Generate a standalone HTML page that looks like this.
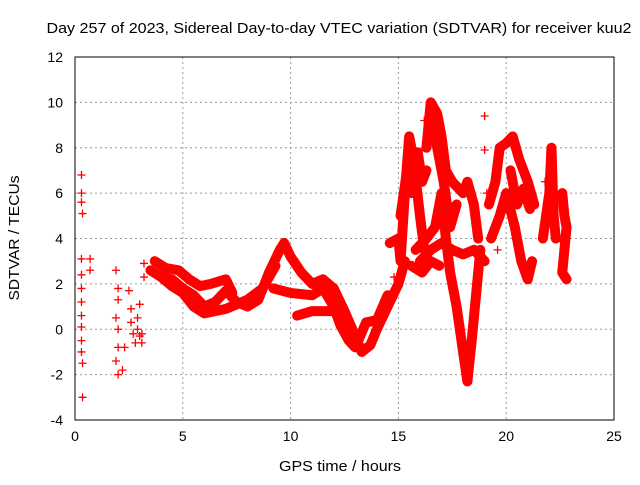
<!DOCTYPE html>
<html><head><meta charset="utf-8"><style>
body{margin:0;background:#fff}
svg text{font-family:"Liberation Sans",sans-serif;fill:#000}
</style></head><body>
<svg id="chart" width="640" height="480" xmlns="http://www.w3.org/2000/svg">
<text x="339" y="33" font-size="15" text-anchor="middle" textLength="585" lengthAdjust="spacingAndGlyphs">Day 257 of 2023, Sidereal Day-to-day VTEC variation (SDTVAR) for receiver kuu2</text>
<text x="340" y="471" font-size="15" text-anchor="middle" textLength="122" lengthAdjust="spacingAndGlyphs">GPS time / hours</text>
<text transform="translate(19,238) rotate(-90)" font-size="15" text-anchor="middle" textLength="125" lengthAdjust="spacingAndGlyphs">SDTVAR / TECUs</text>
<g id="grid"></g><g id="ticks"></g><g id="bands"></g><g id="marks"></g>
<rect x="75" y="57" width="539" height="363" fill="none" stroke="#000"/>
</svg>
<script>
const xTicks=[0,5,10,15,20,25];
const yTicks=[-4,-2,0,2,4,6,8,10,12];
const track1=[[3.5,2.6],[4,2.3],[4.5,2.2],[5,1.8],[5.5,1.5],[6,1.0],[6.5,1.2],[7,1.7],[7.5,1.2],[8,1.0],[8.5,1.3],[9,2.5],[9.5,3.5],[9.7,3.8]];
const track1b=[[3.7,3.0],[4.2,2.7],[4.8,2.6],[5.3,2.2],[5.8,1.9],[6.3,2.0],[7,2.2],[7.3,1.6]];
const track2=[[9.7,3.8],[10,3.2],[10.5,2.5],[11,2.0],[11.5,2.2],[12,1.8],[12.5,0.8],[13,-0.3],[13.3,-1.0],[13.7,-0.7],[14,0],[14.5,1],[15,2],[15.3,3]];
const track3=[[9.2,1.8],[10,1.6],[11,1.5],[11.5,1.8],[12,1.0],[12.3,0.2],[12.7,-0.5],[13,-0.8],[13.5,0.3],[14,0.4],[14.5,1.5]];
const track4=[[10.3,0.6],[11,0.8],[12,0.8],[12.5,0.5]];
const track5=[[4,2.3],[4.5,1.9],[5,1.6],[5.5,1.0],[6,0.7],[7,0.9],[8,1.3],[8.7,1.8],[9.3,2.8]];
const track6=[[14.6,3.8],[15,4.0],[15.1,3],[15.3,6],[15.5,8.5],[15.7,7.5],[16,5],[16.2,3.5]];
const track6b=[[15.1,5],[15.4,7],[15.6,6],[15.9,7.8],[16.1,6.5],[16.3,7]];
const track7=[[16.3,8],[16.5,10],[16.8,9.5],[17,8.5],[17.2,7],[17.5,6.5],[18,6],[18.2,6.5],[18.5,5.5],[18.7,4]];
const track7b=[[16.6,9],[16.9,7.5],[17.1,6.5],[17.4,4.5],[17.7,5.5]];
const track8=[[15.8,3.5],[16.3,4],[16.7,4.5],[17,6],[17.2,4],[17.4,2.5],[17.7,1],[18,-1],[18.2,-2.3],[18.4,-0.5],[18.6,1.5],[18.8,3.5]];
const track9=[[16,3],[16.5,3.5],[17,3.8],[17.5,3.5],[18,3.3],[18.5,3.5],[19,3]];
const track9b=[[15.6,2.8],[16.1,2.5],[16.5,3.0],[16.9,2.8]];
const track10=[[19.2,5.5],[19.5,6.5],[19.7,8],[20,8.2],[20.3,8.5],[20.6,7.5],[21,6.5],[21.3,5.5]];
const track11=[[19.3,4],[19.7,5],[20,6],[20.4,4.5],[20.7,3],[21,2.2],[21.2,3]];
const track11b=[[20.2,7],[20.5,5.5],[20.8,6.2],[21.1,5.3]];
const track12=[[21.7,4],[22,6],[22.1,8],[22.2,5],[22.3,4]];
const track13=[[22.6,6],[22.7,5],[22.8,4.5],[22.6,2.5],[22.8,2.2]];
const scatter=[[0.3,6.8],[0.3,6.0],[0.3,5.6],[0.35,5.1],[0.3,3.1],[0.3,2.4],[0.3,1.8],[0.3,1.2],[0.3,0.6],[0.3,0.1],[0.3,-0.5],[0.3,-1.0],[0.35,-1.5],[0.35,-3.0],[0.7,3.1],[0.7,2.6],[1.9,2.6],[2.0,1.8],[2.0,1.3],[1.9,0.5],[2.0,0],[2.0,-0.8],[1.9,-1.4],[2.0,-2.0],[2.2,-1.8],[2.3,-0.8],[2.5,1.7],[2.6,0.9],[2.6,0.3],[2.7,-0.2],[2.8,-0.6],[2.9,0.5],[3.0,-0.3],[3.1,-0.6],[3.2,2.3],[3.2,2.9],[3.0,1.1],[2.9,0],[3.1,-0.2],[14.8,2.3],[16.2,9.2],[19.0,9.4],[19.0,7.9],[19.1,6.0],[21.8,6.5],[21.9,5.0],[22.5,4.0],[19.6,3.5]];
const tracks=[track1,track1b,track2,track3,track4,track5,track6,track6b,track7,track7b,track8,track9,track9b,track10,track11,track11b,track12,track13];
const X=t=>75+t*539/25, Y=v=>420-(v+4)*363/16;
const NS="http://www.w3.org/2000/svg";
const mk=(p,tag,attrs)=>{const e=document.createElementNS(NS,tag);for(const k in attrs)e.setAttribute(k,attrs[k]);p.appendChild(e);return e;};
const grid=document.getElementById('grid'),ticks=document.getElementById('ticks');
xTicks.forEach(t=>{
  if(t>0&&t<25){const g=mk(grid,'line',{x1:X(t),x2:X(t),y1:57,y2:420,stroke:'#999','stroke-dasharray':'2,3'});
  
  }
  const l=mk(ticks,'text',{x:X(t),y:441,'font-size':14,'text-anchor':'middle'});l.textContent=t;
  
  
});
yTicks.forEach(v=>{
  if(v>-4&&v<12){const g=mk(grid,'line',{x1:75,x2:614,y1:Y(v),y2:Y(v),stroke:'#999','stroke-dasharray':'2,3'});
  
  }
  const l=mk(ticks,'text',{x:63,y:Y(v)+5,'font-size':14,'text-anchor':'end'});l.textContent=v;
  
  
});
const bands=document.getElementById('bands'),marks=document.getElementById('marks');
tracks.forEach(tr=>{
  const p=mk(bands,'polyline',{points:tr.map(d=>X(d[0])+','+Y(d[1])).join(' '),fill:'none',stroke:'#f00','stroke-width':10,'stroke-linejoin':'round','stroke-linecap':'round'});
  
  
});
tracks.concat([scatter]).forEach(tr=>tr.forEach(d=>{
  const x=X(d[0]),y=Y(d[1]);
  const m=mk(marks,'path',{d:`M${x-4},${y}H${x+4}M${x},${y-4}V${y+4}`,stroke:'#f00','stroke-width':1.3});
  
  
}));
</script>
</body></html>
